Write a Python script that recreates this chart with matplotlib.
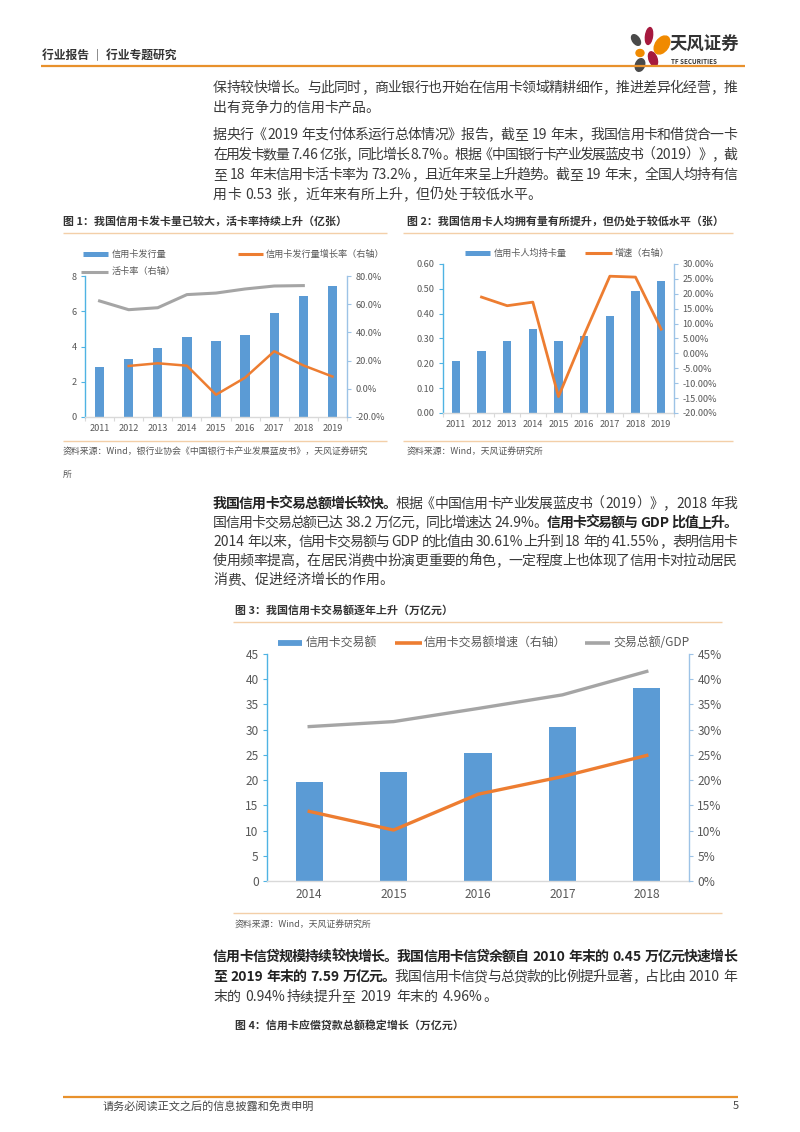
import matplotlib
matplotlib.use('Agg')
import matplotlib.pyplot as plt
from matplotlib.font_manager import FontProperties
from matplotlib.lines import Line2D
from matplotlib.patches import Ellipse
from matplotlib.transforms import IdentityTransform
from matplotlib.ticker import FuncFormatter, FixedLocator
import numpy as np

plt.rcParams['font.family'] = ['Noto Sans CJK SC', 'DejaVu Sans']

# ---------------- data ----------------
years1 = ['2011', '2012', '2013', '2014', '2015', '2016', '2017', '2018', '2019']
cards_issued = [2.85, 3.31, 3.91, 4.54, 4.31, 4.63, 5.88, 6.86, 7.46]
cards_growth = [np.nan, 16.2, 18.1, 16.4, -4.2, 7.9, 26.6, 16.6, 8.7]
active_rate = [62.3, 56.1, 57.5, 66.8, 67.9, 70.8, 72.9, 73.2, np.nan]

years2 = ['2011', '2012', '2013', '2014', '2015', '2016', '2017', '2018', '2019']
per_capita = [0.21, 0.25, 0.29, 0.34, 0.29, 0.31, 0.39, 0.49, 0.53]
per_capita_growth = [np.nan, 18.9, 16.0, 17.2, -14.5, 6.2, 25.9, 25.6, 8.1]

years3 = ['2014', '2015', '2016', '2017', '2018']
txn_amount = [19.7, 21.7, 25.4, 30.6, 38.2]
txn_growth = [13.8, 10.1, 17.2, 20.7, 24.9]
txn_gdp = [30.61, 31.6, 34.2, 36.9, 41.55]

# ---------------- style ----------------
BLUE = '#5b9bd5'
ORANGE = '#ed7d31'
GRAY = '#a5a5a5'
TICK = '#595959'
LSPINE = '#4fb3e3'
RSPINE = '#9dc3e6'
BSPINE = '#d9d9d9'
HEAD_OR = '#e8912c'
LIGHT_OR = '#f3cfa8'
BODY = '#3a3a3a'
BOLD = '#222222'

W, H = 800, 1132
fig = plt.figure(figsize=(8, 11.32), dpi=100)
fig.patch.set_facecolor('white')


def fx(x):
    return x / W


def fy(y):
    return 1 - y / H


def hline(x0, x1, y, color, lw):
    fig.add_artist(Line2D([fx(x0), fx(x1)], [fy(y), fy(y)], transform=fig.transFigure,
                          color=color, lw=lw, solid_capstyle='butt'))


def ftext(x, y, s, size, color='#333333', weight='normal', ha='left', va='center', **kw):
    return fig.text(fx(x), fy(y), s, fontsize=size, color=color, weight=weight, ha=ha, va=va, **kw)


# ---------------- header ----------------
ftext(42, 56, '行业报告 ｜ 行业专题研究', 8.5, '#333333', weight='bold')
hline(41, 745, 66, HEAD_OR, 1.6)

# logo
idt = IdentityTransform()
petals = [
    ((636, 40), 7, 12, 35, '#4a4a4a'),
    ((649, 36), 7, 17, -8, '#a6193e'),
    ((662, 45), 13, 20, -35, '#f08a00'),
    ((640, 53), 8, 7, 0, '#f08a00'),
    ((653, 59), 8, 15, 20, '#a6193e'),
    ((640, 65), 9, 13, -20, '#4a4a4a'),
]
for (cx, cy), w, h, ang, col in petals:
    fig.add_artist(Ellipse((cx, H - cy), w, h, angle=ang, transform=idt, color=col))
ftext(670, 45, '天风证券', 12.5, '#333333', weight='bold')
ftext(671, 61, 'TF SECURITIES', 4.5, '#333333', weight='bold')

# ---------------- body text ----------------
renderer = fig.canvas.get_renderer()
BODY_FS = 10.0
_cache = {}


def ink_width(s, bold, fs):
    key = (s, bold, fs)
    if key not in _cache:
        prop = FontProperties(family=['Noto Sans CJK SC', 'DejaVu Sans'], size=fs,
                              weight='bold' if bold else 'normal')
        w, h, d = renderer.get_text_width_height_descent(s, prop, ismath=False)
        _cache[key] = w
    return _cache[key]


def tokenize(segments):
    toks = []
    for s, bold in segments:
        run = ''
        for ch in s:
            if ord(ch) >= 0x2E80 or ch == ' ':
                if run:
                    toks.append((run, bold, 'ascii'))
                    run = ''
                toks.append((ch, bold, 'space' if ch == ' ' else 'cjk'))
            else:
                run += ch
        if run:
            toks.append((run, bold, 'ascii'))
    return toks


def draw_line(segments, y, x0=213, x1=737, justify=True, fs=BODY_FS):
    em = fs * 100 / 72.0
    toks = tokenize(segments)
    widths = []
    for s, bold, kind in toks:
        if kind == 'cjk':
            widths.append(em)
        elif kind == 'space':
            widths.append(0.28 * em)
        else:
            widths.append(ink_width(s, bold, fs) + 0.12 * em)
    gap = 0.0
    if justify and len(toks) > 1:
        gap = (x1 - x0 - sum(widths)) / (len(toks) - 1)
    x = x0
    base = y + 0.36 * em
    for (s, bold, kind), w in zip(toks, widths):
        if kind != 'space':
            xx = x
            if kind == 'cjk' and s in '（《“〈':
                xx = x + em - ink_width(s, bold, fs) - 0.05 * em
            elif kind == 'ascii':
                xx = x + 0.06 * em
            fig.text(fx(xx), fy(base), s, fontsize=fs, color=BOLD if bold else BODY,
                     weight='bold' if bold else 'normal', ha='left', va='baseline')
        x += w + gap


N = False
B = True
draw_line([('保持较快增长。与此同时，商业银行也开始在信用卡领域精耕细作，推进差异化经营，推', N)], 87)
draw_line([('出有竞争力的信用卡产品。', N)], 107, justify=False)

draw_line([('据央行《2019 年支付体系运行总体情况》报告，截至 19 年末，我国信用卡和借贷合一卡', N)], 134)
draw_line([('在用发卡数量 7.46 亿张，同比增长 8.7%。根据《中国银行卡产业发展蓝皮书（2019）》，截', N)], 154)
draw_line([('至 18 年末信用卡活卡率为 73.2%，且近年来呈上升趋势。截至 19 年末，全国人均持有信', N)], 174)
draw_line([('用卡 0.53 张，近年来有所上升，但仍处于较低水平。', N)], 194, justify=False)

draw_line([('我国信用卡交易总额增长较快。', B), ('根据《中国信用卡产业发展蓝皮书（2019）》，2018 年我', N)], 503)
draw_line([('国信用卡交易总额已达 38.2 万亿元，同比增速达 24.9%。', N), ('信用卡交易额与 GDP 比值上升。', B)], 522)
draw_line([('2014 年以来，信用卡交易额与 GDP 的比值由 30.61%上升到 18 年的 41.55%，表明信用卡', N)], 541)
draw_line([('使用频率提高，在居民消费中扮演更重要的角色，一定程度上也体现了信用卡对拉动居民', N)], 560)
draw_line([('消费、促进经济增长的作用。', N)], 579, justify=False)

draw_line([('信用卡信贷规模持续较快增长。我国信用卡信贷余额自 2010 年末的 0.45 万亿元快速增长', B)], 956)
draw_line([('至 2019 年末的 7.59 万亿元。', B), ('我国信用卡信贷与总贷款的比例提升显著，占比由 2010 年', N)], 976)
draw_line([('末的 0.94%持续提升至 2019 年末的 4.96%。', N)], 996, justify=False)

# ---------------- figure titles / sources ----------------
TITLE_FS = 7.9
SRC_FS = 6.4
ftext(63, 221, '图 1：我国信用卡发卡量已较大，活卡率持续上升（亿张）', TITLE_FS, '#333333', weight='bold')
ftext(407, 221, '图 2：我国信用卡人均拥有量有所提升，但仍处于较低水平（张）', TITLE_FS, '#333333', weight='bold')
hline(63, 387, 233, LIGHT_OR, 1.0)
hline(403, 733, 233, LIGHT_OR, 1.0)
hline(63, 387, 441, LIGHT_OR, 1.0)
hline(403, 733, 441, LIGHT_OR, 1.0)
ftext(63, 452, '资料来源：Wind，银行业协会《中国银行卡产业发展蓝皮书》，天风证券研究', SRC_FS, '#555555')
ftext(63, 474, '所', SRC_FS, '#555555')
ftext(407, 452, '资料来源：Wind，天风证券研究所', SRC_FS, '#555555')

ftext(235, 610, '图 3：我国信用卡交易额逐年上升（万亿元）', TITLE_FS, '#333333', weight='bold')
hline(233, 722, 622, LIGHT_OR, 1.0)
hline(233, 722, 913, LIGHT_OR, 1.0)
ftext(235, 925, '资料来源：Wind，天风证券研究所', SRC_FS, '#555555')

ftext(235, 1025, '图 4：信用卡应偿贷款总额稳定增长（万亿元）', TITLE_FS, '#333333', weight='bold')

# footer
hline(63, 738, 1097, HEAD_OR, 1.6)
ftext(103, 1106, '请务必阅读正文之后的信息披露和免责申明', 8, '#444444')
ftext(733, 1106, '5', 8, '#444444')


# ---------------- chart helpers ----------------
def style_axes(ax, axr, n, fs):
    for s in ['top', 'right']:
        ax.spines[s].set_visible(False)
    for s in ['top', 'left', 'bottom']:
        axr.spines[s].set_visible(False)
    ax.spines['left'].set_color(LSPINE)
    ax.spines['left'].set_linewidth(1.0)
    ax.spines['bottom'].set_color(BSPINE)
    ax.spines['bottom'].set_linewidth(1.0)
    axr.spines['right'].set_color(RSPINE)
    axr.spines['right'].set_linewidth(1.0)
    ax.tick_params(axis='y', colors=LSPINE, labelcolor=TICK, labelsize=fs, length=3, width=0.8, pad=3)
    axr.tick_params(axis='y', colors=RSPINE, labelcolor=TICK, labelsize=fs, length=3, width=0.8, pad=3)
    ax.tick_params(axis='x', which='major', length=0, labelsize=fs, labelcolor=TICK, pad=5)
    ax.tick_params(axis='x', which='minor', length=3, color=BSPINE, width=0.8)
    ax.set_xlim(-0.5, n - 0.5)
    ax.xaxis.set_minor_locator(FixedLocator(np.arange(-0.5, n, 1.0)))
    for a in (ax, axr):
        a.set_facecolor('none')
    ax.set_zorder(1)
    axr.set_zorder(2)


def legend_key(x0, x1, y, color, lw):
    hline(x0, x1, y, color, lw)


SMALL = 6.6

# ---------------- chart 1 ----------------
ax1 = fig.add_axes([fx(85), fy(417), (347 - 85) / W, (417 - 276) / H])
x1 = np.arange(len(years1))
ax1.bar(x1, cards_issued, width=0.32, color=BLUE, zorder=2)
ax1.set_ylim(0, 8)
ax1.set_yticks([0, 2, 4, 6, 8])
ax1.set_xticks(x1)
ax1.set_xticklabels(years1)
ax1r = ax1.twinx()
ax1r.plot(x1, cards_growth, color=ORANGE, lw=1.8)
ax1r.plot(x1, active_rate, color=GRAY, lw=2.2)
ax1r.set_ylim(-20, 80)
ax1r.set_yticks([-20, 0, 20, 40, 60, 80])
ax1r.yaxis.set_major_formatter(FuncFormatter(lambda v, p: f'{v:.1f}%'))
style_axes(ax1, ax1r, len(years1), SMALL)

legend_key(83, 108, 254, BLUE, 3.6)
ftext(112, 254, '信用卡发行量', SMALL, TICK)
legend_key(238, 263, 254, ORANGE, 2.2)
ftext(266, 254, '信用卡发行量增长率（右轴）', SMALL, TICK)
legend_key(81, 108, 272, GRAY, 2.2)
ftext(112, 272, '活卡率（右轴）', SMALL, TICK)

# ---------------- chart 2 ----------------
ax2 = fig.add_axes([fx(443), fy(413), (674 - 443) / W, (413 - 264) / H])
x2 = np.arange(len(years2))
ax2.bar(x2, per_capita, width=0.32, color=BLUE, zorder=2)
ax2.set_ylim(0, 0.6)
ax2.set_yticks(np.round(np.arange(0, 0.61, 0.1), 2))
ax2.yaxis.set_major_formatter(FuncFormatter(lambda v, p: f'{v:.2f}'))
ax2.set_xticks(x2)
ax2.set_xticklabels(years2)
ax2r = ax2.twinx()
ax2r.plot(x2, per_capita_growth, color=ORANGE, lw=2.0)
ax2r.set_ylim(-20, 30)
ax2r.set_yticks(np.arange(-20, 31, 5))
ax2r.yaxis.set_major_formatter(FuncFormatter(lambda v, p: f'{v:.2f}%'))
style_axes(ax2, ax2r, len(years2), SMALL)

legend_key(465, 490, 253, BLUE, 3.6)
ftext(494, 253, '信用卡人均持卡量', SMALL, TICK)
legend_key(585, 612, 253, ORANGE, 2.2)
ftext(615, 253, '增速（右轴）', SMALL, TICK)

# ---------------- chart 3 ----------------
ax3 = fig.add_axes([fx(267), fy(881), (689 - 267) / W, (881 - 654) / H])
x3 = np.arange(len(years3))
ax3.bar(x3, txn_amount, width=0.32, color=BLUE, zorder=2)
ax3.set_ylim(0, 45)
ax3.set_yticks(np.arange(0, 46, 5))
ax3.set_xticks(x3)
ax3.set_xticklabels(years3)
ax3r = ax3.twinx()
ax3r.plot(x3, txn_growth, color=ORANGE, lw=2.4)
ax3r.plot(x3, txn_gdp, color=GRAY, lw=2.4)
ax3r.set_ylim(0, 45)
ax3r.set_yticks(np.arange(0, 46, 5))
ax3r.yaxis.set_major_formatter(FuncFormatter(lambda v, p: f'{v:.0f}%'))
style_axes(ax3, ax3r, len(years3), 8.6)
ax3.tick_params(axis='x', which='minor', length=0)

legend_key(278, 302, 643, BLUE, 4.2)
ftext(306, 643, '信用卡交易额', 8.6, TICK)
legend_key(395, 422, 643, ORANGE, 2.6)
ftext(424, 643, '信用卡交易额增速（右轴）', 8.6, TICK)
legend_key(585, 610, 643, GRAY, 2.6)
ftext(613, 643, '交易总额/GDP', 8.6, TICK)

fig.savefig('out.png', dpi=100, facecolor='white')
